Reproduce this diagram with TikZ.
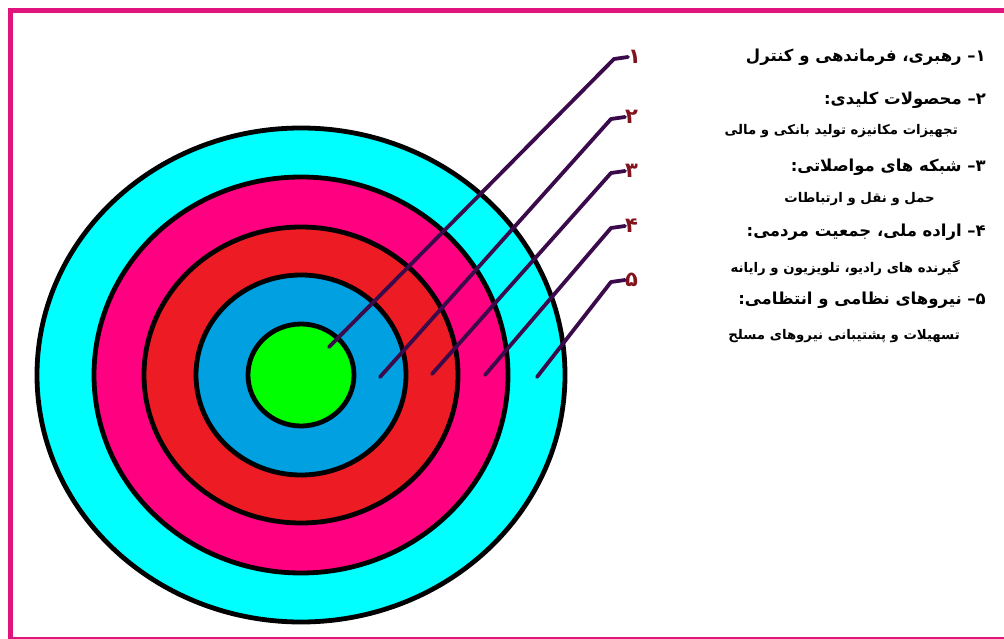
\documentclass[tikz,border=0pt]{standalone}
\usepackage{fontspec}
\TeXXeTstate=1
\newfontfamily\fa[Script=Arabic]{DejaVu Sans}
\definecolor{framec}{RGB}{224,20,124}
\definecolor{ringcyan}{RGB}{0,255,255}
\definecolor{ringpink}{RGB}{255,0,128}
\definecolor{ringred}{RGB}{237,28,36}
\definecolor{ringblue}{RGB}{0,160,225}
\definecolor{ringgreen}{RGB}{0,255,0}
\definecolor{leadc}{RGB}{58,10,74}
\definecolor{numc}{RGB}{130,20,30}
\tikzset{
  ring/.style={draw=black, line width=4.8pt},
  leader/.style={draw=leadc, line width=3.8pt, line cap=round, line join=round},
  numlabel/.style={anchor=west, inner sep=0pt, text=numc, font=\fa\bfseries\fontsize{21}{24}\selectfont},
  head/.style={anchor=east, inner sep=0pt, font=\fa\bfseries\fontsize{16.5}{19}\selectfont},
  sub/.style={anchor=east, inner sep=0pt, font=\fa\bfseries\fontsize{13.3}{16}\selectfont}
}
\begin{document}
\begin{tikzpicture}[x=1pt,y=-1pt]
\useasboundingbox (0,0) rectangle (1004,639);
\clip (0,0) rectangle (1004,639);
% frame
\draw[framec, line width=5pt] (10.5,642) -- (10.5,11) -- (1010,11);
\draw[framec, line width=5pt] (10.5,639.8) -- (1010,639.8);
% rings
\draw[ring, fill=ringcyan] (301,375) ellipse [x radius=264, y radius=247];
\draw[ring, fill=ringpink] (301,375) ellipse [x radius=207, y radius=198];
\draw[ring, fill=ringred] (301,375) ellipse [x radius=157, y radius=148];
\draw[ring, fill=ringblue] (301,375) ellipse [x radius=105, y radius=100];
\draw[ring, fill=ringgreen] (301,375) ellipse [x radius=53, y radius=51];
% leader ends and bends
\coordinate (e1) at (329,347);
\coordinate (e2) at (380,377);
\coordinate (e3) at (432,374);
\coordinate (e4) at (485,375);
\coordinate (e5) at (537,377);
\coordinate (b1) at (614,59);
\coordinate (b2) at (611,119);
\coordinate (b3) at (611,173);
\coordinate (b4) at (611,228);
\coordinate (b5) at (611,282);
% number labels
\node[numlabel] (n1) at (628,57) {\beginR ۱\endR};
\node[numlabel] (n2) at (625,117) {\beginR ۲\endR};
\node[numlabel] (n3) at (625,171) {\beginR ۳\endR};
\node[numlabel] (n4) at (625,226) {\beginR ۴\endR};
\node[numlabel] (n5) at (625,280) {\beginR ۵\endR};
\draw[leader] (e1) -- (b1) -- (n1.west);
\draw[leader] (e2) -- (b2) -- (n2.west);
\draw[leader] (e3) -- (b3) -- (n3.west);
\draw[leader] (e4) -- (b4) -- (n4.west);
\draw[leader] (e5) -- (b5) -- (n5.west);
% legend texts
\node[head] (h1) at (986,57) {\beginR ۱– رهبری، فرماندهی و کنترل\endR};
\node[head] (h2) at (986,100) {\beginR ۲– محصولات کلیدی:\endR};
\node[sub] (s2) at (958,131) {\beginR تجهیزات مکانیزه تولید بانکی و مالی\endR};
\node[head] (h3) at (986,167) {\beginR ۳– شبکه های مواصلاتی:\endR};
\node[sub] (s3) at (935,199) {\beginR حمل و نقل و ارتباطات\endR};
\node[head] (h4) at (986,232) {\beginR ۴– اراده ملی، جمعیت مردمی:\endR};
\node[sub] (s4) at (960,268) {\beginR گیرنده های رادیو، تلویزیون و رایانه\endR};
\node[head] (h5) at (986,300) {\beginR ۵– نیروهای نظامی و انتظامی:\endR};
\node[sub] (s5) at (960,336) {\beginR تسهیلات و پشتیبانی نیروهای مسلح\endR};
\end{tikzpicture}
\end{document}
